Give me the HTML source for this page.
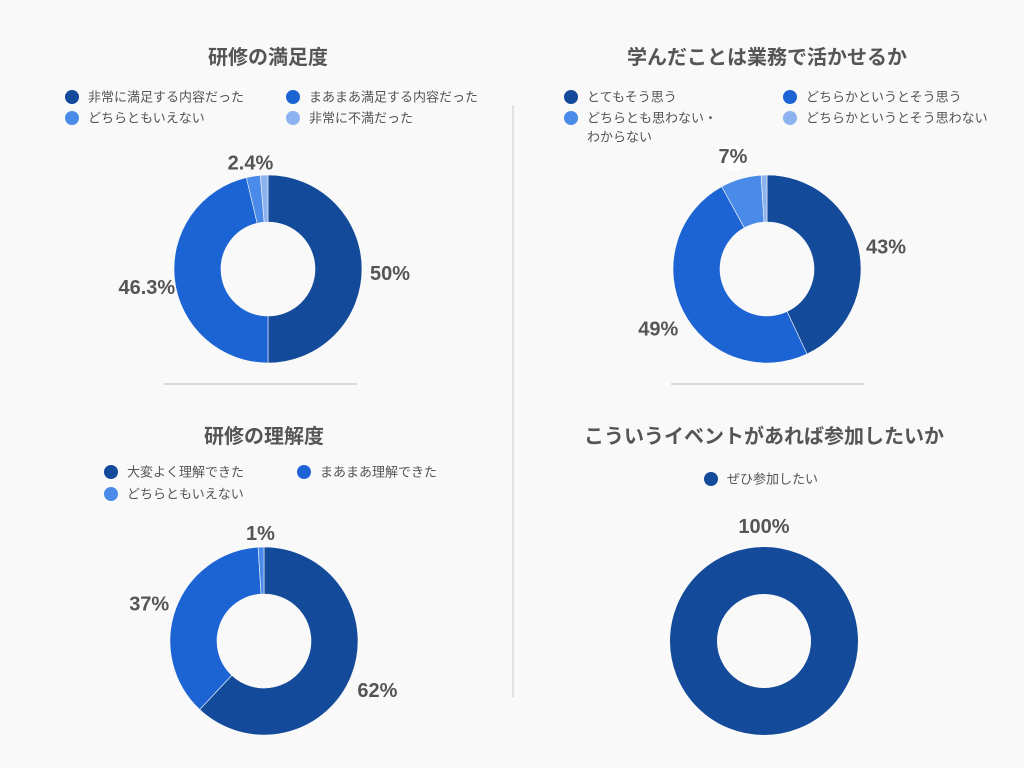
<!DOCTYPE html>
<html><head><meta charset="utf-8">
<style>
html,body{margin:0;padding:0;background:#f9f9f9;}
svg{display:block;font-family:"Liberation Sans","Noto Sans CJK JP",sans-serif;}
.t{font-size:20px;font-weight:bold;fill:#555;text-anchor:middle;}
.lg{font-size:13px;fill:#555;}
.pl{font-size:20px;font-weight:bold;fill:#555;text-anchor:middle;}
</style></head>
<body>
<svg id="s" width="1024" height="768" viewBox="0 0 1024 768">
<rect width="1024" height="768" fill="#f9f9f9"/>
<line x1="513" y1="105" x2="513" y2="697" stroke="#ccc" stroke-width="1"/>
<line x1="164" y1="384" x2="357" y2="384" stroke="#bbb" stroke-width="1"/>
<line x1="671" y1="384" x2="864" y2="384" stroke="#bbb" stroke-width="1"/>
<circle cx="734" cy="158" r="13" fill="#fff"/>
</svg>
<script>
const colors=["#144a9a","#1c64d4","#4a8ae8","#8cb2f0"];
const c1Labels=["非常に満足する内容だった","まあまあ満足する内容だった","どちらともいえない","非常に不満だった"];
const c1Values=[50,46.3,2.4,1.3];
const c1Printed=["50%","46.3%","2.4%",""];
const c2Labels=["とてもそう思う","どちらかというとそう思う","どちらとも思わない・|わからない","どちらかというとそう思わない"];
const c2Values=[43,49,7,1];
const c2Printed=["43%","49%","7%",""];
const c3Labels=["大変よく理解できた","まあまあ理解できた","どちらともいえない"];
const c3Values=[62,37,1];
const c3Printed=["62%","37%","1%"];
const c4Labels=["ぜひ参加したい"];
const c4Values=[100];
const c4Printed=["100%"];

const svg=document.getElementById('s');
const NS="http://www.w3.org/2000/svg";
function mk(tag,attrs,parent){const e=document.createElementNS(NS,tag);for(const k in attrs)e.setAttribute(k,attrs[k]);(parent||svg).appendChild(e);return e;}

function chart(o){
  const g=mk('g',{});
  
  
  const t=mk('text',{x:o.cx,y:o.ty,class:'t'},g);t.textContent=o.title;
  
  
  o.labels.forEach((lab,i)=>{
    const p=o.legend[i];
    const d=mk('circle',{cx:p[0],cy:p[1],r:7,fill:colors[i]},g);
    
    
    const parts=lab.split('|');
    parts.forEach((s,j)=>{
      const tx=mk('text',{x:p[0]+16,y:p[1]+4.5+j*19,class:'lg'},g);tx.textContent=s;
      
      
    });
  });
  const total=o.values.reduce((a,b)=>a+b,0);
  const R=94,r=47;let acc=0;
  o.values.forEach((v,i)=>{
    const a0=acc/total*2*Math.PI,a1=(acc+v)/total*2*Math.PI;acc+=v;
    let el;
    if(v>=total){
      el=mk('circle',{cx:o.cx,cy:o.cy,r:(R+r)/2,fill:'none',stroke:colors[i],'stroke-width':R-r},g);
    } else {
      const P=(ang,rad)=>[o.cx+rad*Math.sin(ang),o.cy-rad*Math.cos(ang)];
      const la=(a1-a0)>Math.PI?1:0;
      const A=P(a0,R),B=P(a1,R),C=P(a1,r),D=P(a0,r);
      el=mk('path',{d:`M${A}A${R},${R} 0 ${la} 1 ${B}L${C}A${r},${r} 0 ${la} 0 ${D}Z`,fill:colors[i],stroke:'#f9f9f9','stroke-width':0.6},g);
    }
    
    
    const txt=o.printed[i];
    if(txt){
      const m=(a0+a1)/2;const rr=v/total<0.05?112:122;
      let x=o.cx+rr*Math.sin(m),y=o.cy-rr*Math.cos(m)+11;
      if(v>=total){x=o.cx;y=o.cy-R-14;}
      const pl=mk('text',{x:x,y:y,class:'pl'},g);pl.textContent=txt;
      
      
    }
  });
  return g;
}
chart({name:'satisfaction-chart',title:'研修の満足度',cx:268,cy:269,ty:64,labels:c1Labels,values:c1Values,printed:c1Printed,legend:[[72,97],[293,97],[72,118],[293,118]]});
chart({name:'usefulness-chart',title:'学んだことは業務で活かせるか',cx:767,cy:269,ty:64,labels:c2Labels,values:c2Values,printed:c2Printed,legend:[[571,97],[790,97],[571,118],[790,118]]});
chart({name:'understanding-chart',title:'研修の理解度',cx:264,cy:641,ty:443,labels:c3Labels,values:c3Values,printed:c3Printed,legend:[[111,472],[304,472],[111,494]]});
chart({name:'participation-chart',title:'こういうイベントがあれば参加したいか',cx:764,cy:641,ty:443,labels:c4Labels,values:c4Values,printed:c4Printed,legend:[[711,479]]});
</script>
</body></html>
